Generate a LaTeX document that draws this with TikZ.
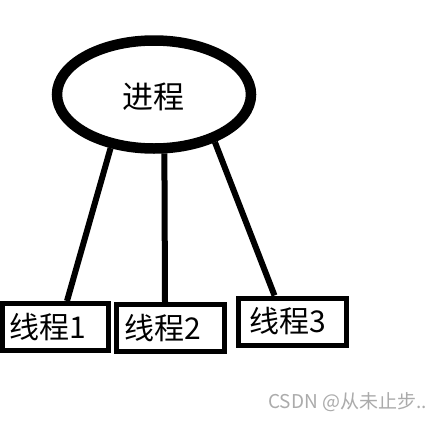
\documentclass[tikz,border=0pt]{standalone}
\usepackage{fontspec}
\setmainfont{Noto Sans CJK SC}
\usetikzlibrary{shapes.geometric,calc}
\begin{document}
\begin{tikzpicture}[x=1pt,y=-1pt,
  proc/.style={draw=black,line width=10.5pt,ellipse,minimum width=194pt,minimum height=108pt,inner sep=0pt,fill=white},
  thr/.style={draw=black,line width=5pt,rectangle,minimum height=47pt,inner ysep=0pt,align=left,font=\fontsize{30}{33}\selectfont},
  link/.style={draw=black,line width=6pt}]
\useasboundingbox[fill=white] (0,0) rectangle (444,421);
\node[proc] (p) at (154,94.5) {};
\node[font=\fontsize{31}{34}\selectfont] (pt) at (153,97) {进程};
\node[thr,text width=92pt,inner xsep=7pt] (t1) at (55.5,327) {线程1};
\node[thr,text width=92pt,inner xsep=8pt] (t2) at (170.5,328) {线程2};
\node[thr,text width=86pt,inner xsep=11pt] (t3) at (292.5,321.5) {线程3};
\draw[link] (p.231) -- ($(t1.north)+(11.5,0)$);
\draw[link] (p.280) -- ($(t2.north)+(-5.5,0)$);
\draw[link] (p.322) -- ($(t3.north)+(-18,0)$);
\node[anchor=base west,text=black!33,font=\fontsize{19}{22}\selectfont,inner sep=0pt] (wm) at (268,408) {CSDN @从未止步..};
\end{tikzpicture}
\end{document}
